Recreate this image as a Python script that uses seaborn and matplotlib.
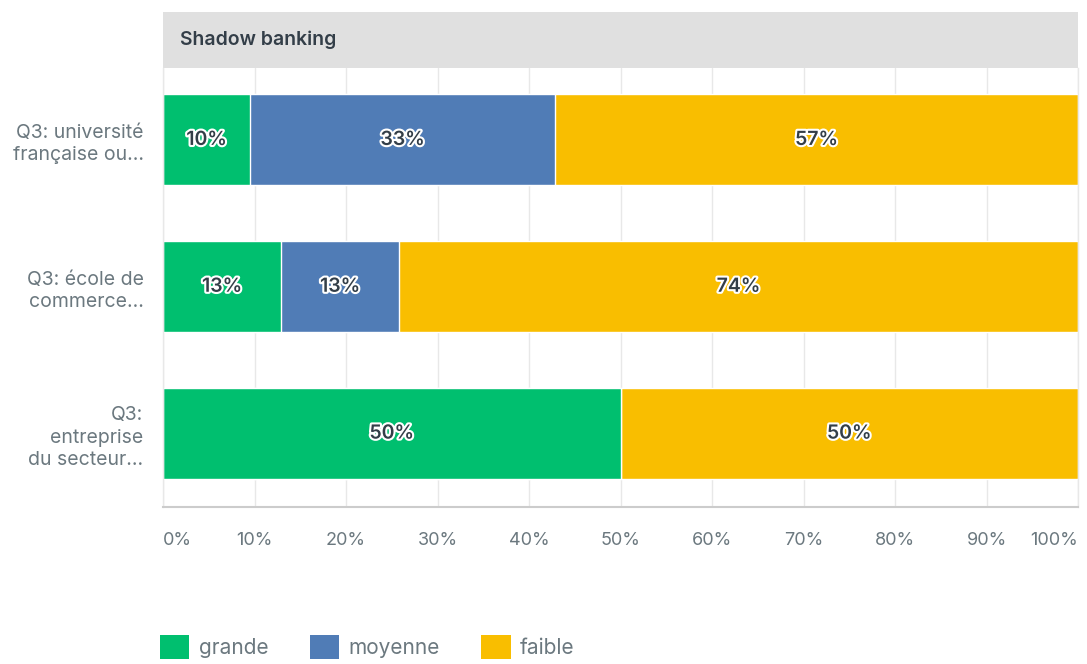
import pandas as pd
import seaborn as sns
from matplotlib import pyplot as plt
from matplotlib import patches, patheffects, ticker

categories = ["Q3: université\nfrançaise ou...", "Q3: école de\ncommerce...", "Q3:\nentreprise\ndu secteur..."]
series_names = ["grande", "moyenne", "faible"]
grande = [9.52, 12.90, 50.0]
moyenne = [33.33, 12.90, 0.0]
faible = [57.14, 74.19, 50.0]
value_labels = [["10%", "33%", "57%"], ["13%", "13%", "74%"], ["50%", "", "50%"]]
tick_values = [0, 10, 20, 30, 40, 50, 60, 70, 80, 90, 100]
panel_title = "Shadow banking"

colors = {"grande": "#00BF6F", "moyenne": "#507CB6", "faible": "#F9BE00"}
text_dark = "#333E48"
text_gray = "#6B787F"

sns.set_theme(style="white")
plt.rcParams["font.family"] = ["Inter", "DejaVu Sans"]

df = pd.DataFrame({"category": categories, "grande": grande, "moyenne": moyenne, "faible": faible})
df["c1"] = df["grande"]
df["c2"] = df["grande"] + df["moyenne"]
df["c3"] = df["c2"] + df["faible"]

fig = plt.figure(figsize=(10.87, 6.64), dpi=100)
ax = fig.add_axes([163 / 1087, 1 - 507 / 664, 915 / 1087, 439 / 664])

# stacked bars: draw cumulative totals back to front
for col, name in [("c3", "faible"), ("c2", "moyenne"), ("c1", "grande")]:
    sns.barplot(data=df, x=col, y="category", orient="h", color=colors[name],
                width=0.62, saturation=1, ax=ax, zorder=2)

# segment labels
outline = [patheffects.withStroke(linewidth=3, foreground="white")]
for i, row in df.iterrows():
    starts = [0, row["c1"], row["c2"]]
    widths = [row["grande"], row["moyenne"], row["faible"]]
    for j in range(3):
        if widths[j] > 0:
            ax.text(starts[j] + widths[j] / 2, i, value_labels[i][j], ha="center", va="center",
                    fontsize=14, fontweight="semibold", color=text_dark, path_effects=outline, zorder=5)

ax.set_xlim(0, 100)
ax.set_ylim(2.5, -0.49)
ax.set_xlabel("")
ax.set_ylabel("")
ax.set_xticks(tick_values)
ax.xaxis.set_major_formatter(ticker.FuncFormatter(lambda v, p: f"{int(v)}%"))
ax.grid(axis="x", color="#E8E8E8", linewidth=1, zorder=0)
ax.set_axisbelow(True)
ax.tick_params(axis="x", length=0, pad=18, labelsize=13, labelcolor=text_gray)
ax.tick_params(axis="y", length=0, pad=14, labelsize=14, labelcolor=text_gray)
for lbl in ax.get_yticklabels():
    lbl.set_horizontalalignment("right")
    lbl.set_multialignment("right")
    lbl.set_linespacing(1.3)
xlabels = ax.get_xticklabels()
xlabels[0].set_horizontalalignment("left")
xlabels[-1].set_horizontalalignment("right")

ax.spines["top"].set_visible(False)
for side in ["left", "right", "bottom"]:
    ax.spines[side].set_visible(True)
    ax.spines[side].set_color("#E8E8E8")
    ax.spines[side].set_linewidth(1)
ax.spines["bottom"].set_color("#CCCCCC")
ax.spines["bottom"].set_linewidth(1.5)

# panel header band
header_h = 56 / 439
ax.add_patch(patches.Rectangle((0, 1), 1, header_h, transform=ax.transAxes,
                               facecolor="#E0E0E0", edgecolor="none", clip_on=False))
ax.text(17 / 915, 1 + header_h / 2, panel_title, transform=ax.transAxes, ha="left", va="center",
        fontsize=14, fontweight="semibold", color=text_dark)

handles = [patches.FancyBboxPatch((0, 0), 1, 1, boxstyle="round,pad=0,rounding_size=0.15",
                                  facecolor=colors[n], edgecolor="none", label=n) for n in series_names]
fig.legend(handles=handles, loc="center left", bbox_to_anchor=(160 / 1087, 1 - 647 / 664), ncol=3,
           frameon=False, fontsize=15, labelcolor=text_gray, handlelength=1.4, handleheight=1.4,
           handletextpad=0.45, columnspacing=2.0, borderpad=0, borderaxespad=0)

plt.savefig("out.png", dpi=100)
